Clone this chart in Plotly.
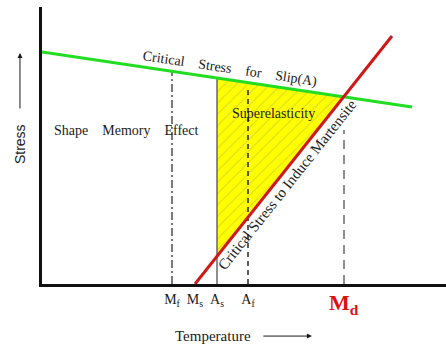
import numpy as np
import plotly.graph_objects as go

# ---- data (x = temperature, y = stress, arbitrary units) ----
tick_names = ["M<sub>f</sub>", "M<sub>s</sub>", "A<sub>s</sub>", "A<sub>f</sub>"]
tick_temps = [130, 153, 175, 206]
md_temp = 302
md_line_top = 154

slip_temp = [0, 370]          # critical stress for slip (green)
slip_stress = [232, 177]
induce_temp = [153, 350]      # critical stress to induce martensite (red)
induce_stress = [0, 248]

mf_t, ms_t, as_t, af_t = tick_temps


def slip_at(t):
    return np.interp(t, slip_temp, slip_stress)


def induce_at(t):
    s = (induce_stress[1] - induce_stress[0]) / (induce_temp[1] - induce_temp[0])
    return induce_stress[0] + s * (t - induce_temp[0])


# intersection of the two lines
s1 = (slip_stress[1] - slip_stress[0]) / (slip_temp[1] - slip_temp[0])
s2 = (induce_stress[1] - induce_stress[0]) / (induce_temp[1] - induce_temp[0])
t_int = (slip_stress[0] - induce_stress[0] + s2 * induce_temp[0]) / (s2 - s1)
y_int = slip_at(t_int)

serif = "Liberation Serif"
ink = "#1a1a1a"
fig = go.Figure()

# superelastic region
fig.add_trace(go.Scatter(
    x=[as_t, t_int, as_t, as_t],
    y=[slip_at(as_t), y_int, induce_at(as_t), slip_at(as_t)],
    mode="lines", fill="toself", fillcolor="#ffff00",
    line=dict(color="rgba(0,0,0,0)", width=0),
    fillpattern=dict(shape="/", bgcolor="#ffff00", fgcolor="#b0b040",
                     size=8, solidity=0.12),
    hoverinfo="skip", showlegend=False))

# vertical transformation lines
fig.add_trace(go.Scatter(x=[mf_t, mf_t], y=[0, slip_at(mf_t)], mode="lines",
                         line=dict(color="#333", width=1.3, dash="8px,3px,2px,3px"),
                         showlegend=False, hoverinfo="skip"))
fig.add_trace(go.Scatter(x=[as_t, as_t], y=[0, slip_at(as_t)], mode="lines",
                         line=dict(color="#444", width=1.2),
                         showlegend=False, hoverinfo="skip"))
fig.add_trace(go.Scatter(x=[af_t, af_t], y=[0, slip_at(af_t) - 4], mode="lines",
                         line=dict(color="#333", width=1.6, dash="5px,4px"),
                         showlegend=False, hoverinfo="skip"))
fig.add_trace(go.Scatter(x=[md_temp, md_temp], y=[0, md_line_top], mode="lines",
                         line=dict(color="#444", width=1.2, dash="9px,6px"),
                         showlegend=False, hoverinfo="skip"))

# green and red lines
fig.add_trace(go.Scatter(x=slip_temp, y=slip_stress, mode="lines",
                         line=dict(color="#22dd22", width=3),
                         showlegend=False, hoverinfo="skip"))
fig.add_trace(go.Scatter(x=induce_temp, y=induce_stress, mode="lines",
                         line=dict(color="#d01818", width=3),
                         showlegend=False, hoverinfo="skip"))

ang_slip = np.degrees(np.arctan(-s1))
ang_ind = np.degrees(np.arctan(s2))

sp = "\u2002\u2002"
annotations = [
    dict(x=84, y=154, text=f"Shape{sp}Memory{sp}Effect",
         font=dict(family=serif, size=14, color=ink)),
    dict(x=188, y=215, text=f"Critical{sp}Stress{sp}for{sp}Slip(A)",
         textangle=ang_slip, font=dict(family=serif, size=14, color=ink)),
    dict(x=231, y=171, text="Superelasticity",
         font=dict(family=serif, size=14, color=ink)),
    dict(x=245, y=99, text="Critical Stress to Induce Martensite",
         textangle=-ang_ind, font=dict(family=serif, size=15, color=ink)),
    dict(x=md_temp, y=0, yanchor="top", yshift=-4, text="<b>M<sub>d</sub></b>",
         font=dict(family=serif, size=22, color="#e01010")),
]
for a in annotations:
    a["showarrow"] = False
    a["xref"] = "x"
    a["yref"] = "y"
    a.setdefault("xanchor", "center")
    a.setdefault("yanchor", "middle")

# axis titles with arrows (paper coordinates)
annotations += [
    dict(x=0.423, y=-0.188, xref="paper", yref="paper", text="Temperature",
         xanchor="center", yanchor="middle",
         showarrow=False, font=dict(family=serif, size=15, color=ink)),
    dict(x=0.668, y=-0.188, xref="paper", yref="paper", text="", showarrow=True,
         ax=-50, ay=0, arrowhead=2, arrowsize=1, arrowwidth=1, arrowcolor=ink),
    dict(x=-0.0545, y=0.505, xref="paper", yref="paper", text="Stress",
         xanchor="center", yanchor="middle",
         showarrow=False, textangle=-90,
         font=dict(family="Liberation Sans", size=14, color=ink)),
    dict(x=-0.0545, y=0.834, xref="paper", yref="paper", text="", showarrow=True,
         ax=0, ay=57, arrowhead=2, arrowsize=1, arrowwidth=1, arrowcolor=ink),
]

fig.update_layout(
    width=446, height=347,
    margin=dict(l=42, r=0, t=7, b=63),
    paper_bgcolor="white", plot_bgcolor="white",
    showlegend=False,
    annotations=annotations,
    xaxis=dict(range=[0, 404], showgrid=False, zeroline=False,
               showline=True, linecolor="#111", linewidth=3,
               tickvals=tick_temps, ticktext=tick_names, ticks="",
               tickfont=dict(family=serif, size=14, color=ink),
               fixedrange=True),
    yaxis=dict(range=[0, 277], showgrid=False, zeroline=False,
               showline=True, linecolor="#111", linewidth=3,
               showticklabels=False, ticks="", fixedrange=True),
)

fig.write_html("out.html")
